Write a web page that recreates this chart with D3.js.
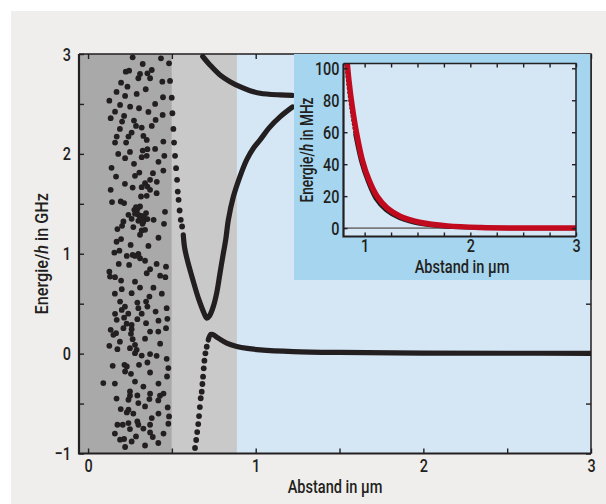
<!DOCTYPE html>
<html><head><meta charset="utf-8">
<script src="https://cdn.jsdelivr.net/npm/d3@7"></script>
<style>
body{margin:0;background:#fff}
text{font-family:Roboto,"Noto Sans",sans-serif;font-weight:500;fill:#231f20}
</style></head><body><div id="chart"></div>
<script>
// shaded regions along the distance axis (µm)
var regionEdges = [-0.054, 0.5, 0.888, 3];

// scattered states on the left (x in µm, y in GHz)
var cloudDots = [
[0.266,2.967],[0.326,2.90],[0.435,2.957],[0.225,2.823],[0.245,2.833],[0.310,2.80],[0.354,2.807],[0.380,2.84],
[0.300,2.757],[0.370,2.757],[0.197,2.713],[0.235,2.673],[0.443,2.723],[0.344,2.647],[0.221,2.58],[0.127,2.533],
[0.191,2.49],[0.251,2.473],[0.304,2.457],[0.447,2.567],[0.161,2.423],[0.215,2.38],[0.135,2.357],[0.274,2.333],
[0.203,2.323],[0.286,2.28],[0.320,2.263],[0.380,2.28],[0.403,2.34],[0.445,2.39],[0.260,2.213],[0.171,2.173],
[0.241,2.173],[0.350,2.14],[0.161,2.113],[0.227,2.113],[0.449,2.123],[0.326,2.033],[0.354,2.047],[0.320,1.967],
[0.350,1.98],[0.455,1.98],[0.221,1.957],[0.274,1.90],[0.387,1.807],[0.306,1.813],[0.449,1.833],[0.167,1.773],
[0.266,1.663],[0.320,1.667],[0.340,1.707],[0.354,1.673],[0.370,1.64],[0.350,1.58],[0.316,1.573],[0.409,1.607],
[0.135,1.64],[0.143,1.517],[0.195,1.523],[0.215,1.507],[0.286,1.467],[0.310,1.473],[0.290,1.423],[0.300,1.39],
[0.310,1.357],[0.330,1.323],[0.354,1.347],[0.346,1.407],[0.391,1.34],[0.241,1.39],[0.459,1.42],[0.211,1.323],
[0.203,1.28],[0.175,1.247],[0.270,1.267],[0.320,1.233],[0.340,1.24],[0.453,1.30],[0.197,1.147],[0.310,1.19],
[0.254,1.088],[0.360,1.078],[0.157,1.011],[0.187,1.031],[0.231,0.978],[0.266,0.988],[0.300,0.998],[0.310,0.955],
[0.280,0.978],[0.183,0.898],[0.245,0.888],[0.350,0.805],[0.370,0.845],[0.409,0.898],[0.465,0.871],[0.461,0.765],
[0.127,0.821],[0.131,0.771],[0.161,0.765],[0.197,0.731],[0.201,0.645],[0.310,0.661],[0.260,0.605],[0.346,0.521],
[0.294,0.511],[0.300,0.455],[0.366,0.571],[0.403,0.421],[0.354,0.471],[0.191,0.521],[0.201,0.438],[0.161,0.398],
[0.469,0.455],[0.171,0.338],[0.294,0.345],[0.346,0.305],[0.260,0.288],[0.260,0.245],[0.256,0.198],[0.266,0.145],
[0.135,0.238],[0.151,0.188],[0.167,0.205],[0.211,0.255],[0.370,0.221],[0.419,0.221],[0.473,0.348],[0.465,0.255],
[0.127,0.078],[0.175,0.045],[0.250,0.055],[0.280,0.088],[0.290,0.038],[0.280,0.005],[0.370,-0.005],[0.409,-0.022],
[0.469,-0.052],[0.147,-0.122],[0.217,-0.112],[0.231,-0.129],[0.221,-0.179],[0.256,-0.202],[0.304,-0.112],[0.354,-0.089],
[0.370,-0.189],[0.479,-0.145],[0.471,-0.229],[0.091,-0.295],[0.250,-0.379],[0.250,-0.422],[0.241,-0.462],[0.294,-0.419],
[0.300,-0.495],[0.340,-0.529],[0.370,-0.402],[0.366,-0.455],[0.429,-0.422],[0.419,-0.469],[0.195,-0.555],[0.241,-0.562],
[0.231,-0.589],[0.380,-0.645],[0.475,-0.539],[0.483,-0.629],[0.175,-0.712],[0.207,-0.712],[0.241,-0.695],[0.250,-0.755],
[0.294,-0.679],[0.300,-0.712],[0.286,-0.829],[0.370,-0.712],[0.370,-0.789],[0.386,-0.835],[0.479,-0.702],[0.191,-0.862],
[0.215,-0.855],[0.221,-0.935],[0.419,-0.895],
[0.276,1.44],[0.296,1.455],[0.280,1.40],[0.320,1.38],[0.335,1.36],[0.300,1.33],[0.260,1.35],[0.325,1.30],
[0.220,0.47],[0.240,0.40],[0.215,0.36],[0.230,0.30],[0.170,2.62],[0.290,2.60],[0.400,2.50],[0.360,2.42],
[0.190,2.25],[0.330,2.18],[0.400,2.05],[0.180,2.00],[0.250,2.02],[0.420,1.92],[0.140,1.86],[0.280,1.78],
[0.370,1.74],[0.220,1.70],[0.410,1.72],[0.170,1.12],[0.420,1.16],[0.340,0.93],[0.430,0.78],[0.280,0.72],
[0.390,0.66],[0.160,0.60],[0.440,0.60],[0.320,0.40],[0.420,0.33],[0.190,0.12],[0.340,0.15],[0.430,0.10],
[0.320,-0.02],[0.160,-0.30],[0.280,-0.28],[0.420,-0.30],[0.330,-0.33],[0.170,-0.45],[0.450,-0.40],[0.270,-0.60],
[0.420,-0.60],[0.330,-0.75],[0.260,-0.88],[0.340,-0.92],[0.450,-0.80],[0.160,-0.80]
];

// sparse part of the V-shaped level (upper left arm)
var vArmDots = [
[0.483,2.907],[0.489,2.73],[0.499,2.563],[0.503,2.407],[0.509,2.25],[0.513,2.113],[0.519,1.98],[0.525,1.857],
[0.531,1.74],[0.535,1.623],[0.540,1.54],[0.546,1.433],[0.553,1.34],[0.561,1.273]
];
// dense part of the V-shaped level
var vCurve = [
[0.568,1.19],[0.576,1.06],[0.592,0.938],[0.624,0.745],[0.660,0.545],[0.688,0.421],[0.708,0.355],[0.724,0.378],
[0.747,0.471],[0.767,0.605],[0.787,0.805],[0.807,1.005],[0.821,1.138],[0.837,1.34],[0.867,1.573],[0.906,1.773],
[0.946,1.94],[0.986,2.057],[1.026,2.14],[1.08,2.26],[1.145,2.37],[1.22,2.47]
];
// upper level
var upperCurve = [
[0.684,2.975],[0.727,2.89],[0.787,2.79],[0.847,2.723],[0.906,2.673],[0.966,2.633],[1.026,2.607],[1.145,2.59],[1.22,2.585]
];
// lower level: sparse rising part, then dense tail
var lowerDots = [
[0.638,-0.945],[0.645,-0.865],[0.651,-0.785],[0.657,-0.705],[0.662,-0.625],[0.667,-0.535],[0.672,-0.447],
[0.678,-0.381],[0.682,-0.304],[0.686,-0.231],[0.690,-0.147],[0.694,-0.071],[0.700,0.003],[0.708,0.069]
];
var lowerCurve = [
[0.717,0.136],[0.732,0.193],[0.745,0.19],[0.777,0.155],[0.827,0.105],[0.887,0.072],[0.95,0.052],[1.026,0.038],
[1.224,0.021],[1.5,0.012],[2.0,0.006],[2.5,0.004],[3.0,0.003]
];

// inset (x in µm, y in MHz)
var insetRed = [
[0.836,103],[0.851,92.7],[0.883,76],[0.924,59.4],[0.978,42.7],[1.041,30.2],[1.12,19.7],[1.215,12.5],
[1.341,7.3],[1.531,3.5],[1.784,1.4],[2.10,0.4],[2.41,0.1],[3.0,0]
];
var insetBlack = [
[0.822,103],[0.836,92],[0.866,76],[0.906,59],[0.962,42],[1.027,29],[1.10,18.5],[1.20,11],
[1.33,6],[1.52,2.5],[1.78,0.6],[2.1,-0.1],[2.5,-0.3],[3.0,-0.4]
];

var xTicks = d3.range(0, 3.01, 0.5);
var yTicks = d3.range(-1, 3.01, 0.5);
var insetXTicks = d3.range(1, 3.01, 0.25);
var insetYTicks = [0, 20, 40, 60, 80, 100];

var ink = "#231f20";
var W = 606, H = 504;
var svg = d3.select("#chart").append("svg").attr("width", W).attr("height", H);
svg.append("rect").attr("x", 11).attr("y", 11).attr("width", W - 11).attr("height", H - 11).attr("fill", "#efeeec");

// narrow the glyphs horizontally (condensed look) while keeping their anchor
function condense(k) {
    return function(sel) {
        sel.each(function() {
            var t = d3.select(this);
            var x0 = +t.attr("x") || 0;
            var tr = t.attr("transform") || "";
            t.attr("x", x0 / k).attr("transform", tr + " scale(" + k + ",1)");
        });
    };
}

var L = 79, R = 591, T = 54, B = 453.5;
var x = d3.scaleLinear().domain([regionEdges[0], 3]).range([L, R]);
var y = d3.scaleLinear().domain([-1, 3]).range([B, T]);

svg.append("clipPath").attr("id", "clipMain").append("rect")
    .attr("x", L).attr("y", T).attr("width", R - L).attr("height", B - T);

var regionColors = ["#a9a9a9", "#c9c9c9", "#d5e6f5"];
var g = svg.append("g").attr("clip-path", "url(#clipMain)");
g.selectAll("rect.region").data(regionColors).enter().append("rect")
    .attr("x", function(d, i) { return x(regionEdges[i]); })
    .attr("width", function(d, i) { return x(regionEdges[i + 1]) - x(regionEdges[i]); })
    .attr("y", T).attr("height", B - T).attr("fill", function(d) { return d; });

var line = d3.line().x(function(d) { return x(d[0]); }).y(function(d) { return y(d[1]); })
    .curve(d3.curveCatmullRom);

[vCurve, upperCurve, lowerCurve].forEach(function(c) {
    g.append("path").attr("d", line(c)).attr("fill", "none").attr("stroke", ink)
        .attr("stroke-width", 5.2).attr("stroke-linecap", "round").attr("stroke-linejoin", "round");
});

g.selectAll("circle.dot").data(cloudDots.concat(vArmDots, lowerDots)).enter().append("circle")
    .attr("cx", function(d) { return x(d[0]); })
    .attr("cy", function(d) { return y(d[1]); })
    .attr("r", 2.9).attr("fill", ink);

// axes with inward ticks
function styleAxis(sel) {
    sel.select(".domain").remove();
    sel.selectAll(".tick line").attr("stroke", ink).attr("stroke-width", 1.4);
    sel.selectAll(".tick text").attr("font-size", 19).attr("fill", ink).call(condense(0.76));
}
var intFmt = function(d) { return Number.isInteger(d) ? d3.format("d")(d) : ""; };

svg.append("g").attr("transform", "translate(0," + B + ")")
    .call(d3.axisBottom(x).tickValues(xTicks).tickSizeInner(-5).tickSizeOuter(0).tickPadding(5).tickFormat(intFmt))
    .call(styleAxis);
svg.append("g").attr("transform", "translate(0," + T + ")")
    .call(d3.axisTop(x).tickValues(xTicks).tickSizeInner(-5).tickSizeOuter(0).tickFormat(""))
    .call(styleAxis);
svg.append("g").attr("transform", "translate(" + L + ",0)")
    .call(d3.axisLeft(y).tickValues(yTicks).tickSizeInner(-5).tickSizeOuter(0).tickPadding(8).tickFormat(intFmt))
    .call(styleAxis);
svg.append("g").attr("transform", "translate(" + R + ",0)")
    .call(d3.axisRight(y).tickValues(yTicks).tickSizeInner(-5).tickSizeOuter(0).tickFormat(""))
    .call(styleAxis);

// frame
svg.append("path").attr("d", "M" + L + "," + T + "H" + R + "V" + B)
    .attr("fill", "none").attr("stroke", ink).attr("stroke-width", 1.5);
svg.append("path").attr("d", "M" + L + "," + T + "V" + B + "H" + R)
    .attr("fill", "none").attr("stroke", ink).attr("stroke-width", 2.2);

svg.append("text").attr("transform", "translate(" + ((L + R) / 2) + ",493)").attr("text-anchor", "middle")
    .attr("font-size", 18).text("Abstand in µm").call(condense(0.81));
var yl = svg.append("text").attr("transform", "translate(48," + ((T + B) / 2) + ") rotate(-90)")
    .attr("text-anchor", "middle").attr("font-size", 18);
yl.append("tspan").text("Energie/");
yl.append("tspan").attr("font-style", "italic").text("h");
yl.append("tspan").text(" in GHz");
yl.call(condense(0.9));

// inset
var iL = 343.5, iR = 576, iT = 63.5, iB = 236.5;
svg.append("rect").attr("x", 294).attr("y", T).attr("width", R - 294).attr("height", 280 - T).attr("fill", "#a5d5ef");
svg.append("path").attr("d", "M" + R + "," + T + "V280").attr("stroke", ink).attr("stroke-width", 1.5);
svg.append("rect").attr("x", iL).attr("y", iT).attr("width", iR - iL).attr("height", iB - iT).attr("fill", "#d5e6f5");

var ix = d3.scaleLinear().domain([0.8, 3]).range([iL, iR]);
var iy = d3.scaleLinear().domain([-5.25, 103]).range([iB, iT]);

svg.append("clipPath").attr("id", "clipInset").append("rect")
    .attr("x", iL).attr("y", iT).attr("width", iR - iL).attr("height", iB - iT);
var ig = svg.append("g").attr("clip-path", "url(#clipInset)");
ig.append("line").attr("x1", iL).attr("x2", iR).attr("y1", iy(0)).attr("y2", iy(0))
    .attr("stroke", "#7a7a7a").attr("stroke-width", 1.6);

var iline = d3.line().x(function(d) { return ix(d[0]); }).y(function(d) { return iy(d[1]); })
    .curve(d3.curveCatmullRom);
ig.append("path").attr("d", iline(insetBlack.slice(0, 4))).attr("fill", "none").attr("stroke", ink)
    .attr("stroke-width", 2.6).attr("stroke-dasharray", "2.5,1.5");
ig.append("path").attr("d", iline(insetBlack.slice(3))).attr("fill", "none").attr("stroke", ink)
    .attr("stroke-width", 3.2);
ig.append("path").attr("d", iline(insetRed)).attr("fill", "none").attr("stroke", "#c20a1e")
    .attr("stroke-width", 5.5);

svg.append("g").attr("transform", "translate(0," + iB + ")")
    .call(d3.axisBottom(ix).tickValues(insetXTicks).tickSizeInner(-4).tickSizeOuter(0).tickPadding(2).tickFormat(intFmt))
    .call(styleAxis);
svg.append("g").attr("transform", "translate(0," + iT + ")")
    .call(d3.axisTop(ix).tickValues(insetXTicks).tickSizeInner(-4).tickSizeOuter(0).tickFormat(""))
    .call(styleAxis);
svg.append("g").attr("transform", "translate(" + iL + ",0)")
    .call(d3.axisLeft(iy).tickValues(insetYTicks).tickSizeInner(-4).tickSizeOuter(0).tickPadding(4))
    .call(styleAxis);
svg.append("g").attr("transform", "translate(" + iR + ",0)")
    .call(d3.axisRight(iy).tickValues(insetYTicks).tickSizeInner(-4).tickSizeOuter(0).tickFormat(""))
    .call(styleAxis);

svg.append("path").attr("d", "M" + iL + "," + iT + "H" + iR + "V" + iB)
    .attr("fill", "none").attr("stroke", ink).attr("stroke-width", 1.5);
svg.append("path").attr("d", "M" + iL + "," + iT + "V" + iB + "H" + iR)
    .attr("fill", "none").attr("stroke", ink).attr("stroke-width", 2.2);

svg.append("text").attr("transform", "translate(462,273)").attr("text-anchor", "middle")
    .attr("font-size", 18).text("Abstand in µm").call(condense(0.81));
var iyl = svg.append("text").attr("transform", "translate(313," + ((iT + iB) / 2) + ") rotate(-90)")
    .attr("text-anchor", "middle").attr("font-size", 18);
iyl.append("tspan").text("Energie/");
iyl.append("tspan").attr("font-style", "italic").text("h");
iyl.append("tspan").text(" in MHz");
iyl.call(condense(0.76));
</script></body></html>
